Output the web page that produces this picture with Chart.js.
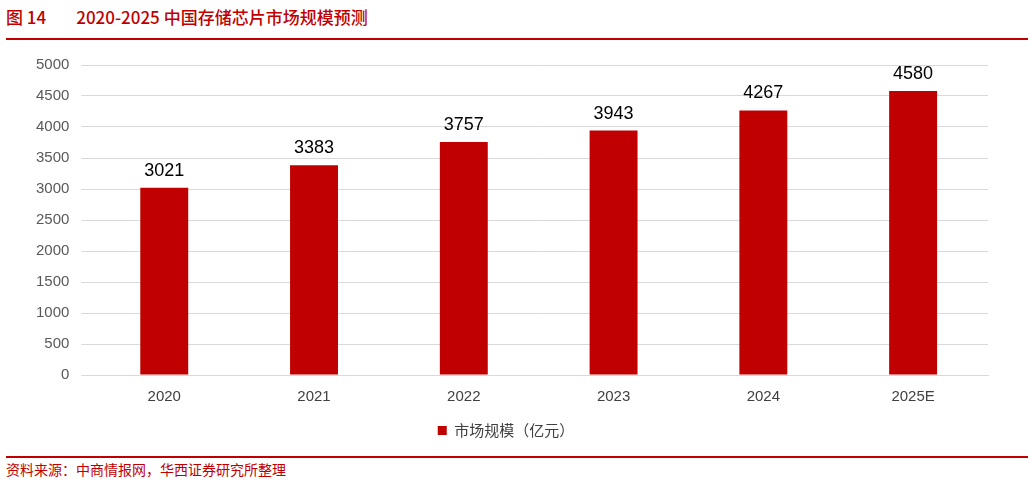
<!DOCTYPE html>
<html><head><meta charset="utf-8">
<script src="https://cdn.jsdelivr.net/npm/chart.js@4"></script>
<style>
body{margin:0;width:1032px;height:483px;background:#fff;font-family:"Noto Sans CJK SC","Noto Sans",sans-serif;position:relative;overflow:hidden}
#title{position:absolute;left:6px;top:4px;font-size:17px;color:#c00000;font-weight:500}
#title span{margin-left:30px}
.rule{position:absolute;left:6px;width:1022px;height:2px;background:#c00000}
#src{position:absolute;left:6px;top:459px;font-size:14px;color:#c00000}
#wrap{position:absolute;left:0;top:44px;width:1032px;height:406px}
</style></head><body>
<div id="title">图 14<span>2020-2025 中国存储芯片市场规模预测</span></div>
<div class="rule" style="top:38px"></div>
<div class="rule" style="top:456px"></div>
<div id="src">资料来源：中商情报网，华西证券研究所整理</div>
<div id="wrap"><canvas id="c"></canvas></div>
<script>
const years = ['2020', '2021', '2022', '2023', '2024', '2025E'];
const marketSize = [3021, 3383, 3757, 3943, 4267, 4580];

const labelPlugin = {
    id: 'labels',
    afterDatasetsDraw(chart) {
        const ctx = chart.ctx;
        ctx.save();
        ctx.font = '18px "Liberation Sans", Arial, sans-serif';
        ctx.fillStyle = '#000';
        ctx.textAlign = 'center';
        ctx.textBaseline = 'bottom';
        chart.getDatasetMeta(0).data.forEach((bar, i) => {
            ctx.fillText(marketSize[i], bar.x, bar.y - 8);
        });
        ctx.restore();
    }
};

new Chart(document.getElementById('c'), {
    type: 'bar',
    data: {
        labels: years,
        datasets: [{
            label: '市场规模（亿元）',
            data: marketSize,
            backgroundColor: '#c00000',
            barPercentage: 0.32,
            categoryPercentage: 1
        }]
    },
    options: {
        responsive: true,
        maintainAspectRatio: false,
        animation: false,
        layout: { padding: { top: 16, right: 44, left: 24, bottom: 2 } },
        plugins: {
            legend: {
                position: 'bottom',
                labels: {
                    color: '#404040',
                    font: { size: 15, family: '"Noto Sans CJK SC"' },
                    boxWidth: 9, boxHeight: 9, padding: 12
                }
            },
            tooltip: { enabled: false }
        },
        scales: {
            x: {
                grid: { display: false },
                border: { color: '#d9d9d9' },
                ticks: { color: '#404040', font: { size: 15, family: '"Liberation Sans"' }, padding: 5 }
            },
            y: {
                min: 0, max: 5000,
                ticks: {
                    stepSize: 500, color: '#595959',
                    font: { size: 15, family: '"Liberation Sans"' }, padding: 12,
                    callback: v => String(v)
                },
                grid: { color: '#d9d9d9' },
                border: { display: false }
            }
        }
    },
    plugins: [labelPlugin]
});
</script>
</body></html>
